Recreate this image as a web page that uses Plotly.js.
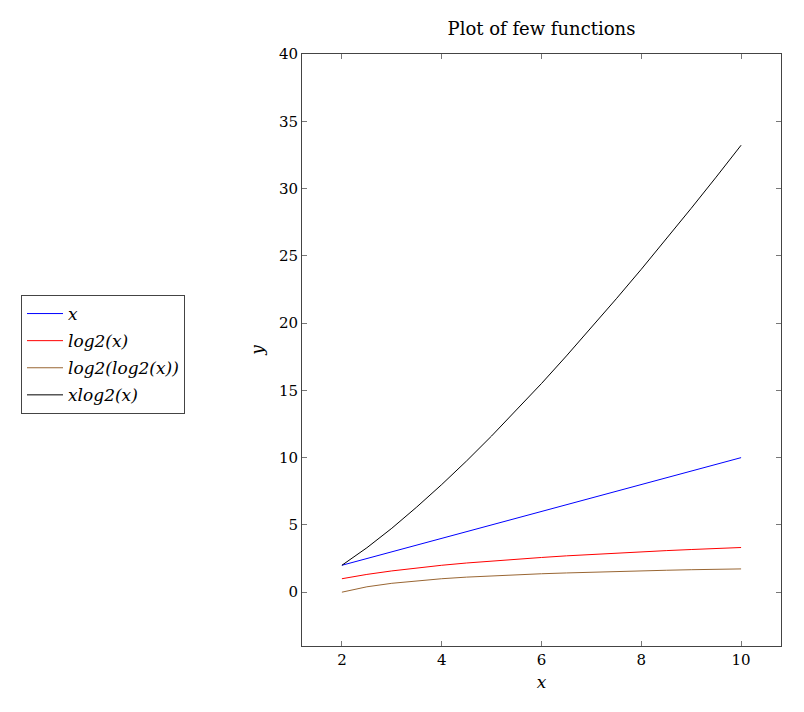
<!DOCTYPE html>
<html><head><meta charset="utf-8">
<script src="https://cdn.plot.ly/plotly-3.0.1.min.js"></script>
<style>html,body{margin:0;padding:0;background:#fff;}#chart{width:804px;height:712px;}</style>
</head><body><div id="chart"></div>
<script>
const xValues = [2, 2.5, 3, 3.5, 4, 4.5, 5, 5.5, 6, 6.5, 7, 7.5, 8, 8.5, 9, 9.5, 10];
const yLinear = [2, 2.5, 3, 3.5, 4, 4.5, 5, 5.5, 6, 6.5, 7, 7.5, 8, 8.5, 9, 9.5, 10];
const yLog2 = [1, 1.32, 1.58, 1.81, 2, 2.17, 2.32, 2.46, 2.58, 2.70, 2.81, 2.91, 3.0, 3.09, 3.17, 3.25, 3.32];
const yLogLog = [0, 0.40, 0.66, 0.85, 1.0, 1.12, 1.22, 1.30, 1.37, 1.43, 1.49, 1.54, 1.58, 1.63, 1.67, 1.70, 1.73];
const yXLog = [2, 3.30, 4.75, 6.33, 8, 9.76, 11.61, 13.53, 15.51, 17.56, 19.66, 21.81, 24.0, 26.24, 28.53, 30.85, 33.22];
const seriesNames = ["x", "log2(x)", "log2(log2(x))", "xlog2(x)"];
const seriesColors = ["rgb(0,0,255)", "rgb(255,0,0)", "rgb(153,102,51)", "rgb(0,0,0)"];
const seriesY = [yLinear, yLog2, yLogLog, yXLog];

const font = "DejaVu Serif, Liberation Serif, serif";
const traces = seriesY.map((ys, i) => ({
  type: "scatter", mode: "lines", x: xValues, y: ys, name: seriesNames[i],
  legendgroup: "g" + i,
  line: {color: seriesColors[i], width: 1}
}));

const axisCommon = {
  showline: true, linecolor: "#444", linewidth: 1, mirror: "ticks",
  ticks: "inside", ticklen: 5, tickcolor: "#777", tickwidth: 1,
  showgrid: false, zeroline: false,
  tickfont: {family: font, size: 15, color: "#000"}
};

const layout = {
  width: 804, height: 712,
  margin: {l: 302, r: 23, t: 54, b: 66},
  paper_bgcolor: "#fff", plot_bgcolor: "#fff",
  title: {text: "Plot of few functions", font: {family: font, size: 18, color: "#000"},
          x: 0.5, xanchor: "center", xref: "paper", y: 1 - 29/712, yanchor: "middle"},
  xaxis: Object.assign({}, axisCommon, {range: [1.2, 10.8], dtick: 2, tick0: 2,
    title: {text: "x", font: {family: font, size: 17, color: "#000", style: "italic"}, standoff: 8}}),
  yaxis: Object.assign({}, axisCommon, {range: [-4, 40], dtick: 5, tick0: 0,
    title: {text: "y", font: {family: font, size: 17, color: "#000", style: "italic"}, standoff: 10}}),
  showlegend: true,
  legend: {
    xref: "container", yref: "container",
    x: 21/804, y: 1 - 295/712, xanchor: "left", yanchor: "top",
    bordercolor: "#444", borderwidth: 1, bgcolor: "#fff",
    font: {family: font, size: 17, color: "#000", style: "italic"},
    traceorder: "grouped", tracegroupgap: 2, itemwidth: 36
  }
};
Plotly.newPlot("chart", traces, layout, {displayModeBar: false, staticPlot: true});
</script></body></html>
